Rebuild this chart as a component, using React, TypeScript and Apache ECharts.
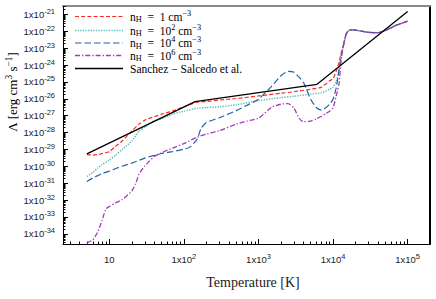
import React, { useEffect, useRef } from 'react';
import * as echarts from 'echarts';

// ---- data (Λ stored as log10 exponents) ----
const tailT = [14000, 15000, 16000, 17000, 20000, 25000, 30000, 40000, 50000, 70000, 100000];
const tailLog = [-22.7, -22.15, -21.98, -21.91, -21.93, -22.0, -22.06, -22.08, -21.95, -21.65, -21.4];

const tempsLow = [5, 6, 7, 8, 10, 12, 15, 20, 25, 30, 40, 50, 70, 100, 150, 200, 300, 500, 1000, 2000, 3000, 5000, 7000, 9000, 10000, 11000, 12000, 13000];
const redLog = [-29.3, -29.33, -29.3, -29.24, -29.13, -28.83, -28.48, -27.91, -27.5, -27.26, -27.06, -26.91, -26.73, -26.47, -26.2, -26.16, -26.07, -25.98, -25.83, -25.67, -25.58, -25.43, -25.31, -24.93, -24.81, -24.37, -23.84, -23.2];
const tealLog = [-30.6, -30.37, -30.1, -29.89, -29.63, -29.36, -28.98, -28.51, -27.91, -27.68, -27.29, -27.18, -26.91, -26.73, -26.56, -26.51, -26.47, -26.35, -26.11, -25.93, -25.85, -25.72, -25.64, -25.43, -25.31, -24.96, -24.31, -23.35];

const tempsBlue = [5, 6, 7, 8, 10, 15, 20, 30, 50, 70, 100, 120, 150, 170, 200, 300, 500, 700, 1000, 1500, 2000, 2500, 3000, 4000, 5000, 6000, 7000, 8000, 9000, 10000, 11000, 12000, 13000];
const blueLog = [-30.9, -30.69, -30.55, -30.43, -30.28, -29.98, -29.81, -29.51, -29.24, -29.13, -28.98, -28.86, -28.4, -27.75, -27.4, -27.12, -26.7, -26.38, -26.02, -25.26, -24.63, -24.37, -24.43, -25.02, -26.02, -26.53, -26.67, -26.53, -26.32, -26.02, -25.37, -24.31, -23.35];

const tempsPurple = [5, 6, 7, 8, 9, 10, 12, 15, 20, 23, 25, 30, 40, 50, 70, 100, 150, 200, 300, 500, 700, 1000, 1500, 2000, 2500, 3000, 3500, 4000, 5000, 6000, 7000, 8000, 9000, 10000, 11000, 12000, 13000];
const purpleLog = [-34.53, -34.36, -33.88, -33.2, -32.52, -32.38, -32.17, -31.96, -31.46, -30.93, -30.46, -29.98, -29.42, -29.2, -28.92, -28.65, -28.27, -28.09, -27.89, -27.5, -27.32, -27.15, -26.5, -26.32, -26.28, -26.56, -27.15, -27.35, -27.32, -27.18, -27.03, -26.88, -26.73, -26.53, -25.85, -25.14, -23.5];

const tempsBlack = [5, 141, 6100, 100000];
const blackLog = [-29.26, -26.17, -25.14, -20.82];

const xMajorExp = [1, 2, 3, 4, 5];
const yMajorExp = [-34, -33, -32, -31, -30, -29, -28, -27, -26, -25, -24, -23, -22, -21];

const legendNames = ['n_H = 1', 'n_H = 1e2', 'n_H = 1e4', 'n_H = 1e6', 'Sanchez-Salcedo et al.'];

// ---- layout / style ----
const X_MIN = 0.379;
const X_MAX = 5.3;
const Y_MIN = -34.6;
const Y_MAX = -20.5;
const SANS = '"Liberation Sans", Arial, sans-serif';
const SERIF = '"Liberation Serif", "Times New Roman", serif';
const TXT = '#222';

function minorValues(lo: number, hi: number, dLo: number, dHi: number) {
  const out: number[] = [];
  for (let d = dLo; d <= dHi; d++) {
    for (let k = 2; k <= 9; k++) {
      const v = d + Math.log10(k);
      if (v > lo && v < hi) out.push(v);
    }
  }
  return out;
}

function pairs(ts: number[], ls: number[]) {
  return ts.map((t, i) => [Math.log10(t), ls[i]]);
}

const styles = [
  { color: '#ff2a1f', type: [4, 2.2], width: 1.2 },
  { color: '#5cbcbc', type: [1.3, 1.3], width: 1.5 },
  { color: '#2162a3', type: [6.5, 3], width: 1.2 },
  { color: '#a53bb8', type: [5, 2, 1.3, 2], width: 1.3 },
  { color: '#000000', type: 'solid', width: 1.3 },
];

const labelRich = {
  b: { fontFamily: SANS, fontSize: 9.5, lineHeight: 14, color: TXT },
  s: { fontFamily: SANS, fontSize: 7.5, lineHeight: 8, verticalAlign: 'top', color: TXT },
};

const serifRich = (fs: number) => ({
  t: { fontFamily: SERIF, fontSize: fs, lineHeight: fs + 3, color: TXT },
  sub: { fontFamily: SERIF, fontSize: fs * 0.72, lineHeight: fs * 0.72, verticalAlign: 'bottom', color: TXT },
  sup: { fontFamily: SERIF, fontSize: fs * 0.72, lineHeight: fs * 0.72, verticalAlign: 'top', color: TXT },
});

const legendTexts = [
  '{t|n}{sub|H}{t|  =  1 cm}{sup|−3}',
  '{t|n}{sub|H}{t|  =  10}{sup|2}{t| cm}{sup|−3}',
  '{t|n}{sub|H}{t|  =  10}{sup|4}{t| cm}{sup|−3}',
  '{t|n}{sub|H}{t|  =  10}{sup|6}{t| cm}{sup|−3}',
  '{t|Sanchez − Salcedo et al.}',
];
const legendRows = [16.5, 30.5, 43, 55.5, 68.5];

export default function App() {
  const ref = useRef<HTMLDivElement>(null);
  useEffect(() => {
    if (!ref.current) return;
    const chart = echarts.init(ref.current, null, { renderer: 'svg' });
    const seriesData = [
      pairs(tempsLow.concat(tailT), redLog.concat(tailLog)),
      pairs(tempsLow.concat(tailT), tealLog.concat(tailLog)),
      pairs(tempsBlue.concat(tailT), blueLog.concat(tailLog)),
      pairs(tempsPurple.concat(tailT), purpleLog.concat(tailLog)),
      pairs(tempsBlack, blackLog),
    ];
    const series: any[] = seriesData.map((d, i) => ({
      type: 'line',
      name: legendNames[i],
      data: d,
      xAxisIndex: 0,
      yAxisIndex: 0,
      showSymbol: false,
      symbol: 'none',
      smooth: i === 4 ? false : 0.2,
      z: 2 + i,
      lineStyle: { color: styles[i].color, type: styles[i].type as any, width: styles[i].width },
    }));

    const legendGraphics: any[] = [];
    legendRows.forEach((y, i) => {
      legendGraphics.push({
        type: 'line',
        shape: { x1: 75, y1: y, x2: 123, y2: y },
        style: {
          stroke: styles[i].color,
          lineWidth: styles[i].width,
          lineDash: Array.isArray(styles[i].type) ? styles[i].type : null,
        },
        silent: true,
      });
      legendGraphics.push({
        type: 'text',
        x: 130,
        y: y,
        style: {
          text: legendTexts[i],
          rich: serifRich(11.5),
          verticalAlign: 'middle',
          align: 'left',
        },
        silent: true,
      });
    });

    const option: any = {
      animation: false,
      grid: { left: 63, right: 6, top: 6, bottom: 55 },
      xAxis: [
        {
          type: 'value', min: X_MIN, max: X_MAX, position: 'bottom',
          axisLine: { show: true, lineStyle: { color: '#000', width: 1 } },
          axisTick: { show: true, inside: true, length: 5, customValues: xMajorExp, lineStyle: { color: '#000' } },
          axisLabel: {
            customValues: xMajorExp, margin: 8,
            formatter: (v: number) => (Math.round(v) === 1 ? '{b|10}' : `{b|1x10}{s|${Math.round(v)}}`),
            rich: labelRich,
          },
          splitLine: { show: false },
        },
        {
          type: 'value', min: X_MIN, max: X_MAX, position: 'bottom',
          axisLine: { show: false },
          axisTick: { show: true, inside: true, length: 2.5, customValues: minorValues(X_MIN, X_MAX, 0, 5), lineStyle: { color: '#000' } },
          axisLabel: { show: false },
          splitLine: { show: false },
        },
        {
          type: 'value', min: X_MIN, max: X_MAX, position: 'top',
          axisLine: { show: true, lineStyle: { color: '#8a8a8a', width: 2 } },
          axisTick: { show: false },
          axisLabel: { show: false },
          splitLine: { show: false },
        },
      ],
      yAxis: [
        {
          type: 'value', min: Y_MIN, max: Y_MAX, position: 'left',
          axisLine: { show: true, lineStyle: { color: '#000', width: 1 } },
          axisTick: { show: true, inside: true, length: 5, customValues: yMajorExp, lineStyle: { color: '#000' } },
          axisLabel: {
            customValues: yMajorExp, margin: 8,
            formatter: (v: number) => `{b|1x10}{s|${Math.round(v)}}`,
            rich: labelRich,
          },
          splitLine: { show: false },
        },
        {
          type: 'value', min: Y_MIN, max: Y_MAX, position: 'left',
          axisLine: { show: false },
          axisTick: { show: true, inside: true, length: 2.5, customValues: minorValues(Y_MIN, Y_MAX, -35, -21), lineStyle: { color: '#000' } },
          axisLabel: { show: false },
          splitLine: { show: false },
        },
        {
          type: 'value', min: Y_MIN, max: Y_MAX, position: 'right',
          axisLine: { show: true, lineStyle: { color: '#000', width: 2 } },
          axisTick: { show: false },
          axisLabel: { show: false },
          splitLine: { show: false },
        },
      ],
      series,
      graphic: [
        ...legendGraphics,
        {
          type: 'text', x: 253, y: 282,
          style: { text: 'Temperature [K]', fontFamily: SERIF, fontSize: 14, fill: TXT, align: 'center', verticalAlign: 'middle' },
          silent: true,
        },
        {
          type: 'text', x: 12, y: 92, rotation: Math.PI / 2,
          style: {
            text: '{t|Λ [erg cm}{sup|3}{t| s}{sup|−1}{t|]}',
            rich: serifRich(13),
            align: 'center', verticalAlign: 'middle',
          },
          silent: true,
        },
      ],
    };
    chart.setOption(option);
    return () => chart.dispose();
  }, []);
  return <div ref={ref} style={{ width: 436, height: 299, position: 'absolute', left: 0, top: 0 }} />;
}
